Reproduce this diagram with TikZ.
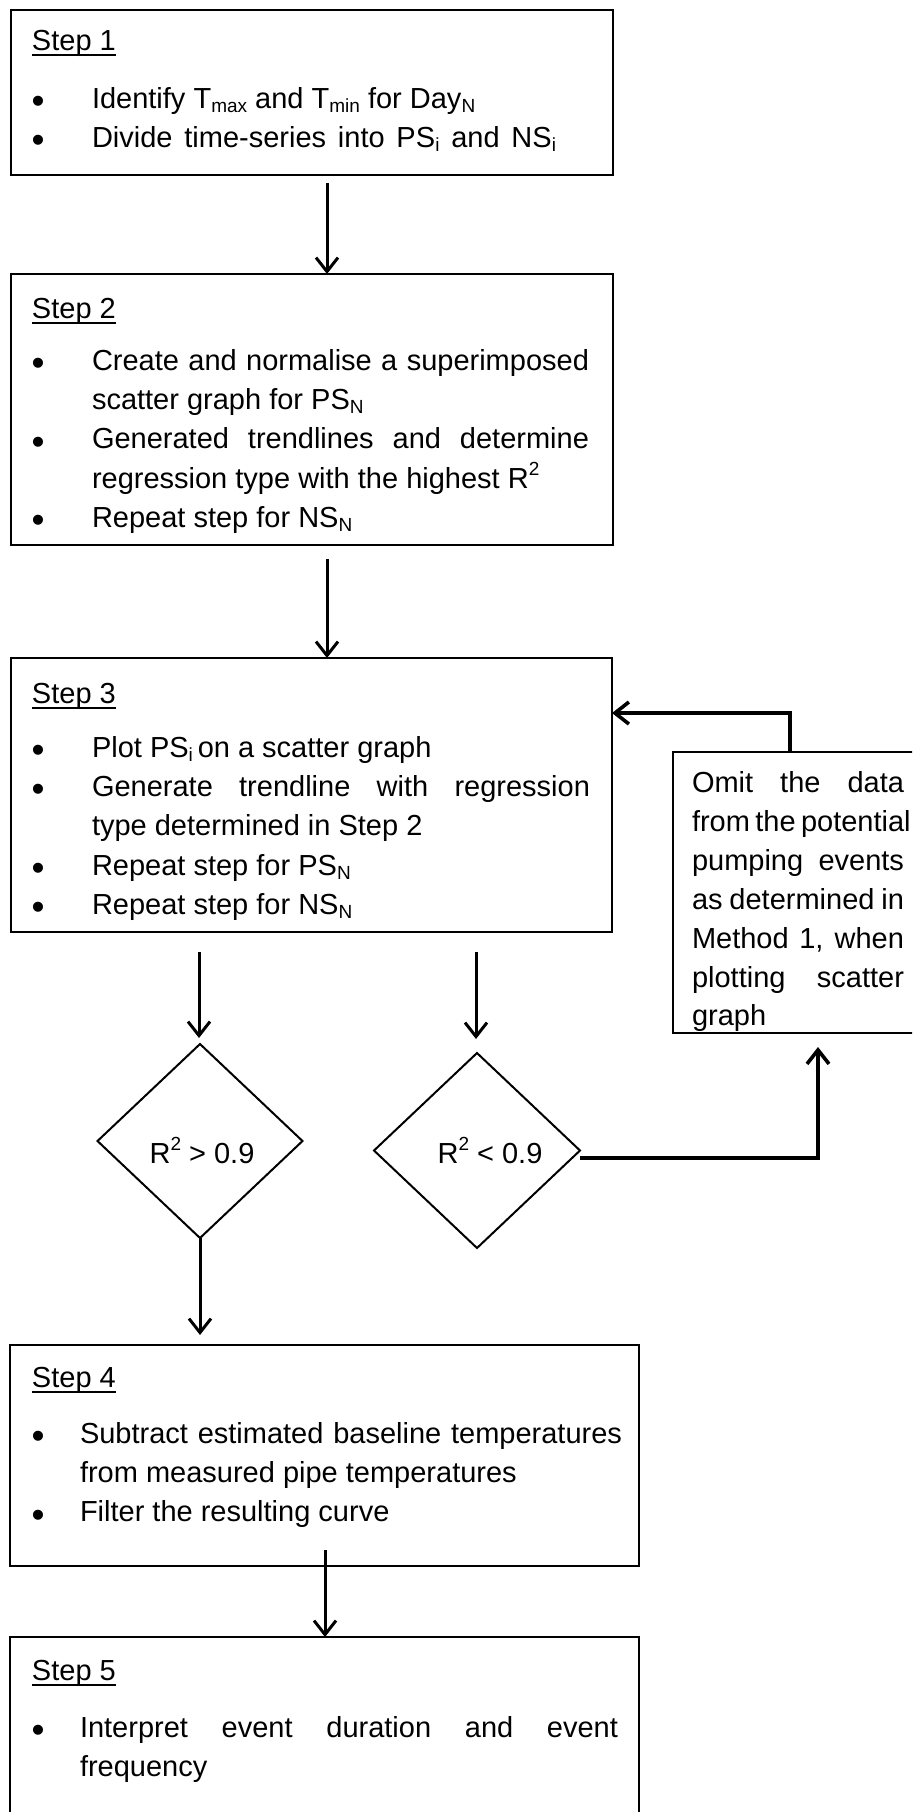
\documentclass[tikz,border=0pt]{standalone}
\usepackage{fontspec}
\setmainfont{Liberation Sans}
\usetikzlibrary{shapes.geometric,arrows.meta}
\newcommand\subs[1]{\raisebox{-0.16em}{\fontsize{9.5}{10}\selectfont #1}}
\newcommand\supr[1]{\raisebox{0.42em}{\fontsize{9.5}{10}\selectfont #1}}
\newcommand\jl[2]{\makebox[#1][s]{#2}}
\newcommand\ulx[1]{\setbox0\hbox{#1}\rlap{\rule[-3.1pt]{\wd0}{1pt}}\box0}
\begin{document}
\begin{tikzpicture}[x=0.5pt,y=-0.5pt,
  box/.style={draw, line width=1pt, rectangle, inner sep=0pt, outer sep=0pt},
  dia/.style={draw, line width=1pt, diamond, inner sep=0pt, outer sep=0pt},
  txt/.style={anchor=base west, inner sep=0pt, outer sep=0pt, font=\fontsize{14.5}{17}\selectfont},
  ctxt/.style={anchor=base, inner sep=0pt, outer sep=0pt, font=\fontsize{14.5}{17}\selectfont},
  bul/.style={anchor=base, inner sep=0pt, outer sep=0pt, yshift=-2.7pt, font=\fontsize{18.5}{19}\selectfont},
  arr/.style={line width=1.5pt, -{Straight Barb[length=7pt,width=11pt,line width=1.5pt]}},
  farr/.style={line width=2pt, -{Straight Barb[length=7pt,width=11pt,line width=1.8pt]}}
]
\clip (0,0) rectangle (912,1812);
\fill[white] (0,0) rectangle (912,1812);

% boxes
\node[box, minimum width=301pt, minimum height=82.5pt] (s1) at (312,92.5) {};
\node[box, minimum width=301pt, minimum height=135.5pt] (s2) at (312,409.5) {};
\node[box, minimum width=300.5pt, minimum height=137pt] (s3) at (311.5,795) {};
\node[box, minimum width=143.5pt, minimum height=140.5pt] (om) at (816.5,892.5) {};
\node[dia, minimum width=102.5pt, minimum height=97pt] (d1) at (200,1141) {};
\node[dia, minimum width=103pt, minimum height=97.5pt] (d2) at (477,1150.5) {};
\node[box, minimum width=314.5pt, minimum height=110.5pt] (s4) at (324.5,1455.5) {};
\node[box, minimum width=314.5pt, minimum height=116.5pt] (s5) at (324.5,1753.5) {};

% Step 1 text
\node[txt] (t1) at (32,50) {\ulx{Step 1}};
\node[bul] (b11) at (38,108) {•};
\node[txt] (t11) at (92,108) {Identify T\subs{max} and T\subs{min} for Day\subs{N}};
\node[bul] (b12) at (38,147.3) {•};
\node[txt] (t12) at (92,147.3) {\jl{232pt}{Divide time-series into PS\subs{i} and NS\subs{i}}};

% Step 2 text
\node[txt] (t2) at (32,318) {\ulx{Step 2}};
\node[bul] (b21) at (38,370) {•};
\node[txt] (t21) at (92,370) {\jl{248.5pt}{Create and normalise a superimposed}};
\node[txt] (t22) at (92,409.3) {scatter graph for PS\subs{N}};
\node[bul] (b23) at (38,448.6) {•};
\node[txt] (t23) at (92,448.6) {\jl{248.5pt}{Generated trendlines and determine}};
\node[txt] (t24) at (92,488) {regression type with the highest R\supr{2}};
\node[bul] (b25) at (38,527.2) {•};
\node[txt] (t25) at (92,527.2) {Repeat step for NS\subs{N}};

% Step 3 text
\node[txt] (t3) at (32,703) {\ulx{Step 3}};
\node[bul] (b31) at (38,757) {•};
\node[txt] (t31) at (92,757) {Plot PS\subs{i}\,on a scatter graph};
\node[bul] (b32) at (38,796.3) {•};
\node[txt] (t32) at (92,796.3) {\jl{249pt}{Generate trendline with regression}};
\node[txt] (t33) at (92,835.6) {type determined in Step 2};
\node[bul] (b34) at (38,875) {•};
\node[txt] (t34) at (92,875) {Repeat step for PS\subs{N}};
\node[bul] (b35) at (38,914.2) {•};
\node[txt] (t35) at (92,914.2) {Repeat step for NS\subs{N}};

% Omit text
\node[txt] (o1) at (692,792) {\jl{106pt}{Omit the data}};
\node[txt] (o2) at (692,831) {\jl{106pt}{from the potential}};
\node[txt] (o3) at (692,870) {\jl{106pt}{pumping events}};
\node[txt] (o4) at (692,909) {\jl{106pt}{as determined in}};
\node[txt] (o5) at (692,948) {\jl{106pt}{Method 1, when}};
\node[txt] (o6) at (692,987) {\jl{106pt}{plotting scatter}};
\node[txt] (o7) at (692,1025) {graph};

% diamond labels
\node[ctxt] (dl1) at (202,1163) {R\supr{2} > 0.9};
\node[ctxt] (dl2) at (490,1163) {R\supr{2} < 0.9};

% Step 4 text
\node[txt] (t4) at (32,1387) {\ulx{Step 4}};
\node[bul] (b41) at (38,1443) {•};
\node[txt] (t41) at (80,1443) {\jl{271pt}{Subtract estimated baseline temperatures}};
\node[txt] (t42) at (80,1482.3) {from measured pipe temperatures};
\node[bul] (b43) at (38,1521.6) {•};
\node[txt] (t43) at (80,1521.6) {Filter the resulting curve};

% Step 5 text
\node[txt] (t5) at (32,1680) {\ulx{Step 5}};
\node[bul] (b51) at (38,1737) {•};
\node[txt] (t51) at (80,1737) {\jl{269pt}{Interpret event duration and event}};
\node[txt] (t52) at (80,1776.3) {frequency};

% connector anchors
\coordinate (c1) at (327,183);
\coordinate (c2) at (327,559);
\coordinate (c3) at (199,952);
\coordinate (c4) at (476,952);
\coordinate (c6) at (325,1550);
\coordinate (k1) at (818,1158);
\coordinate (k2) at (790,713);

% connectors
\draw[arr] (c1) -- (c1 |- s2.north);
\draw[arr] (c2) -- (c2 |- s3.north);
\draw[arr, shorten >=3pt] (c3) -- (c3 |- d1.north);
\draw[arr, shorten >=7pt] (c4) -- (c4 |- d2.north);
\draw[arr, shorten >=5pt] (d1.south) -- (d1.south |- s4.north);
\draw[arr] (c6) -- (c6 |- s5.north);
\draw[farr, shorten >=7pt] (d2.east |- k1) -- (k1) -- (k1 |- om.south);
\draw[farr] (k2 |- om.north) -- (k2) -- (k2 -| s3.east);
\end{tikzpicture}
\end{document}
